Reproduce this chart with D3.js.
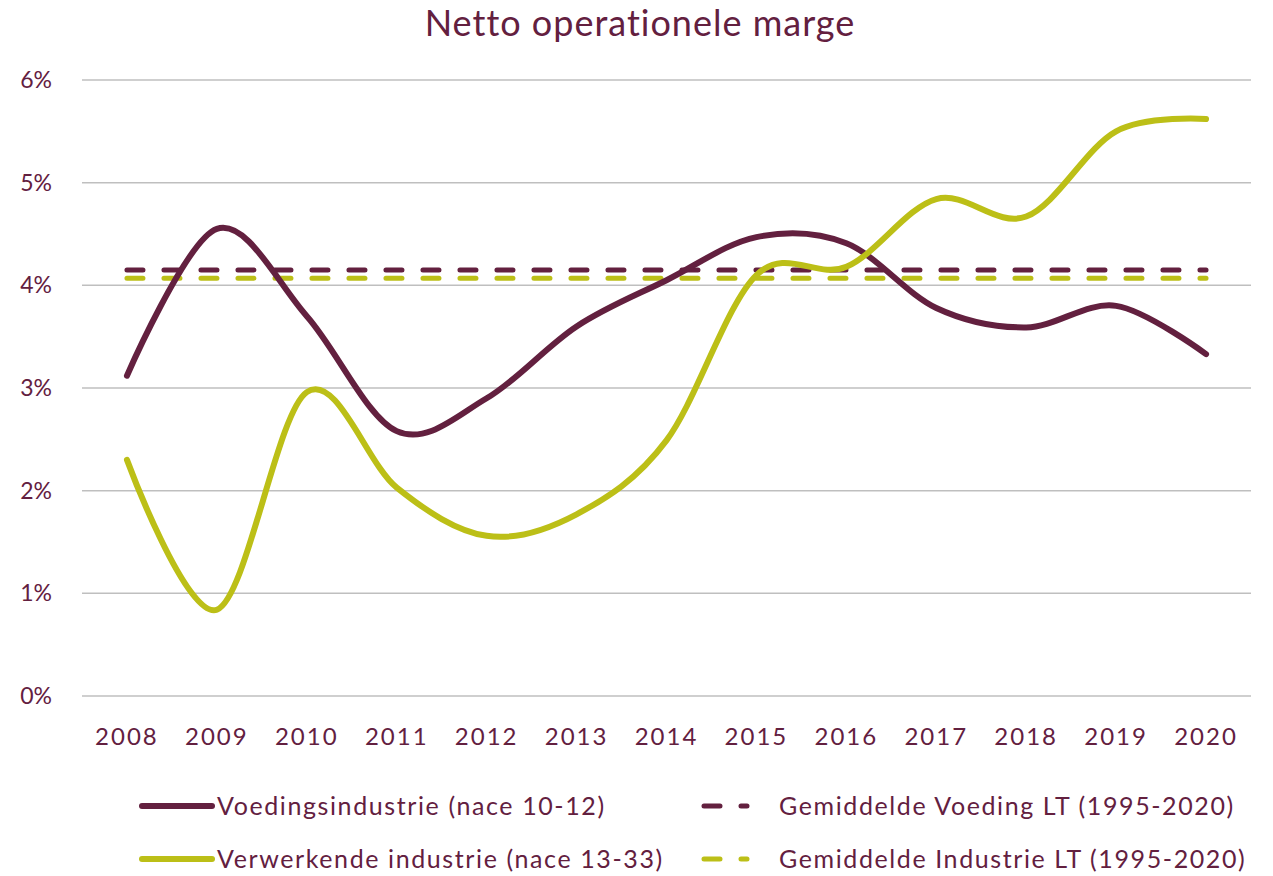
<!DOCTYPE html>
<html>
<head>
<meta charset="utf-8">
<script src="https://cdnjs.cloudflare.com/ajax/libs/d3/7.8.5/d3.min.js"></script>
<style>
  body { margin: 0; background: #fff; }
  svg { display: block; }
  text { font-family: Lato, "Open Sans", sans-serif; fill: #63203f; }
</style>
</head>
<body>
<script>
// data
const years = [2008, 2009, 2010, 2011, 2012, 2013, 2014, 2015, 2016, 2017, 2018, 2019, 2020]
const voeding = [3.12, 4.55, 3.70, 2.58, 2.90, 3.60, 4.05, 4.47, 4.41, 3.78, 3.59, 3.80, 3.33]
const industrie = [2.30, 0.84, 2.96, 2.03, 1.56, 1.77, 2.49, 4.10, 4.18, 4.84, 4.67, 5.50, 5.62]
const avgVoeding = 4.15
const avgIndustrie = 4.07
const yTicks = [0, 1, 2, 3, 4, 5, 6]

const maroon = "#63203f"
const green = "#bcbf17"

const width = 1273, height = 876

const svg = d3.select("body").append("svg")
  .attr("width", width)
  .attr("height", height)

let x = d3.scalePoint().domain(years).range([82, 1251]).padding(0.5)
let y = d3.scaleLinear().domain([0, 6]).range([696, 80])

// gridlines
svg.append("g")
  .selectAll("line")
  .data(yTicks)
  .enter()
  .append("line")
  .attr("x1", 82)
  .attr("x2", 1251)
  .attr("y1", d => y(d))
  .attr("y2", d => y(d))
  .attr("stroke", "#bfbfbf")
  .attr("stroke-width", 1.5)

// y labels
svg.append("g")
  .selectAll("text")
  .data(yTicks)
  .enter()
  .append("text")
  .text(d => d + "%")
  .attr("x", 52)
  .attr("y", d => y(d))
  .attr("dy", "0.35em")
  .attr("text-anchor", "end")
  .attr("font-size", "23px")

// x labels
svg.append("g")
  .selectAll("text")
  .data(years)
  .enter()
  .append("text")
  .text(d => d)
  .attr("x", d => x(d))
  .attr("y", 737)
  .attr("dy", "0.35em")
  .attr("text-anchor", "middle")
  .attr("font-size", "24px")
  .attr("letter-spacing", "2px")

// average lines
let averages = [[avgIndustrie, green], [avgVoeding, maroon]]

svg.append("g")
  .selectAll("line")
  .data(averages)
  .enter()
  .append("line")
  .attr("x1", x(years[0]))
  .attr("x2", x(years[years.length - 1]))
  .attr("y1", d => y(d[0]))
  .attr("y2", d => y(d[0]))
  .attr("stroke", d => d[1])
  .attr("stroke-width", 5)
  .attr("stroke-linecap", "round")
  .attr("stroke-dasharray", "16 21")

// series lines
let line = d3.line()
  .x((d, i) => x(years[i]))
  .y(d => y(d))
  .curve(d3.curveCardinal.tension(0))

let series = [[voeding, maroon], [industrie, green]]

svg.append("g")
  .selectAll("path")
  .data(series)
  .enter()
  .append("path")
  .attr("d", d => line(d[0]))
  .attr("fill", "none")
  .attr("stroke", d => d[1])
  .attr("stroke-width", 6)
  .attr("stroke-linecap", "round")
  .attr("stroke-linejoin", "round")

// title
svg.append("text")
  .text("Netto operationele marge")
  .attr("x", 640)
  .attr("y", 36)
  .attr("text-anchor", "middle")
  .attr("font-size", "36px")
  .attr("letter-spacing", "1px")

// legend
let legend = [
  {label: "Voedingsindustrie (nace 10-12)", color: maroon, dash: false, x: 142, y: 806},
  {label: "Verwerkende industrie (nace 13-33)", color: green, dash: false, x: 142, y: 859},
  {label: "Gemiddelde Voeding LT (1995-2020)", color: maroon, dash: true, x: 704, y: 806},
  {label: "Gemiddelde Industrie LT (1995-2020)", color: green, dash: true, x: 704, y: 859}
]

let items = svg.append("g")
  .selectAll("g")
  .data(legend)
  .enter()
  .append("g")
  .attr("transform", d => "translate(" + d.x + "," + d.y + ")")

items.append("line")
  .attr("x1", 0)
  .attr("x2", d => d.dash ? 43 : 70)
  .attr("y1", 0)
  .attr("y2", 0)
  .attr("stroke", d => d.color)
  .attr("stroke-width", d => d.dash ? 5 : 6)
  .attr("stroke-linecap", "round")
  .attr("stroke-dasharray", d => d.dash ? "16 21" : null)

items.append("text")
  .text(d => d.label)
  .attr("x", 75)
  .attr("y", 0)
  .attr("dy", "0.35em")
  .attr("font-size", "25px")
  .attr("letter-spacing", "1.6px")
</script>
</body>
</html>
